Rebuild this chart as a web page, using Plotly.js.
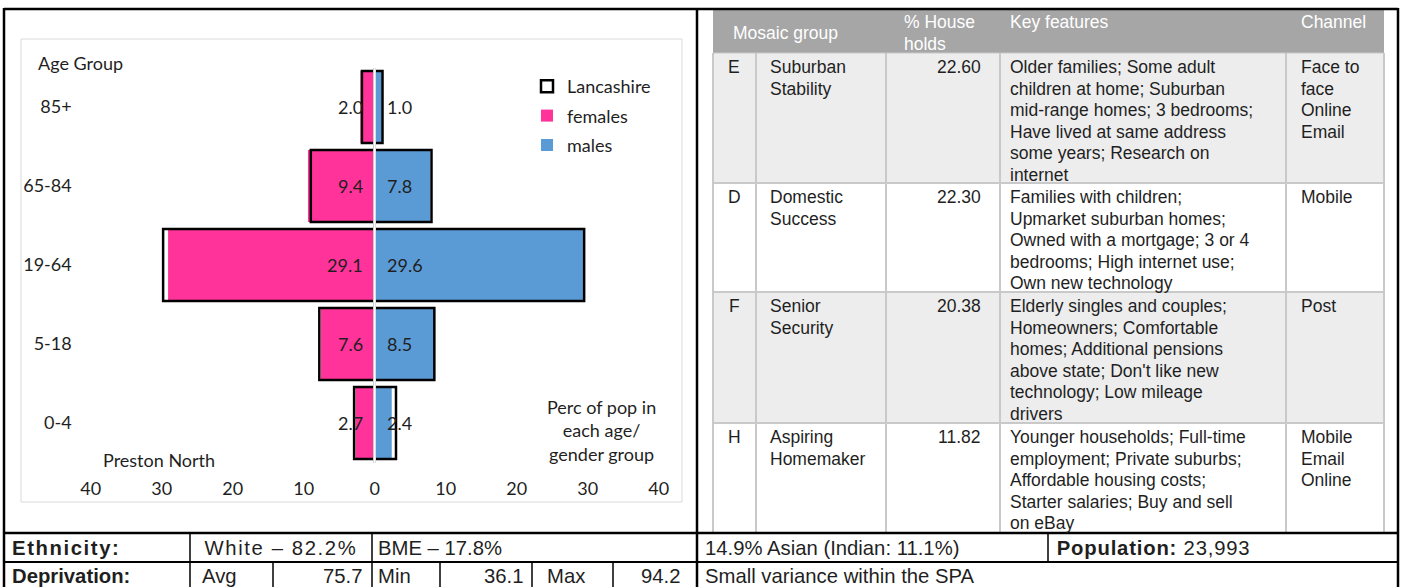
<!DOCTYPE html>
<html><head><meta charset="utf-8">
<script src="https://cdn.plot.ly/plotly-3.0.1.min.js"></script>
<style>html,body{margin:0;padding:0;background:#fff}#chart{width:1405px;height:587px}</style>
</head><body><div id="chart"></div>
<script>
// ---------------- DATA ----------------
const ageGroups = ['85+', '65-84', '19-64', '5-18', '0-4'];
const prestonFemales = [2.0, 9.4, 29.1, 7.6, 2.7];
const prestonMales = [1.0, 7.8, 29.6, 8.5, 2.4];
const lancsFemales = [1.8, 9.0, 29.8, 7.8, 2.9];
const lancsMales = [1.1, 8.0, 29.5, 8.4, 3.0];
const xTickVals = [-40, -30, -20, -10, 0, 10, 20, 30, 40];
const xTickText = ['40', '30', '20', '10', '0', '10', '20', '30', '40'];

const mosaicHeaders = ['Mosaic group', '% House\nholds', 'Key features', 'Channel'];
const mosaicCodes = ['E', 'D', 'F', 'H'];
const mosaicNames = ['Suburban\nStability', 'Domestic\nSuccess', 'Senior\nSecurity', 'Aspiring\nHomemaker'];
const mosaicPct = [22.60, 22.30, 20.38, 11.82];
const mosaicFeatures = [
  'Older families; Some adult\nchildren at home; Suburban\nmid-range homes; 3 bedrooms;\nHave lived at same address\nsome years; Research on\ninternet',
  'Families with children;\nUpmarket suburban homes;\nOwned with a mortgage; 3 or 4\nbedrooms; High internet use;\nOwn new technology',
  'Elderly singles and couples;\nHomeowners; Comfortable\nhomes; Additional pensions\nabove state; Don\'t like new\ntechnology; Low mileage\ndrivers',
  'Younger households; Full-time\nemployment; Private suburbs;\nAffordable housing costs;\nStarter salaries; Buy and sell\non eBay'
];
const mosaicChannels = ['Face to\nface\nOnline\nEmail', 'Mobile', 'Post', 'Mobile\nEmail\nOnline'];

const whitePct = 82.2, bmePct = 17.8, asianPct = 14.9, indianPct = 11.1, population = 23993;
const deprAvg = 75.7, deprMin = 36.1, deprMax = 94.2;
const deprNote = 'Small variance within the SPA';

// ---------------- HELPERS ----------------
const W = 1405, H = 587;
const px = x => x / W;
const py = y => 1 - y / H;
const CHART_FONT = 'Lato, Carlito, Calibri, sans-serif';
const TABLE_FONT = 'Liberation Sans, Arial, Helvetica, sans-serif';
const TXT = '#1f1f1f';
const shapes = [];
const annotations = [];
const spaced = {}; // annotation index -> letter spacing
function line(x0, y0, x1, y1, color, width, layer) {
  shapes.push({type: 'line', xref: 'paper', yref: 'paper', x0: px(x0), y0: py(y0), x1: px(x1), y1: py(y1),
    line: {color: color, width: width}, layer: layer || 'above'});
}
function rect(x0, y0, x1, y1, fill, lineColor, lineWidth) {
  shapes.push({type: 'rect', xref: 'paper', yref: 'paper', x0: px(x0), y0: py(y0), x1: px(x1), y1: py(y1),
    fillcolor: fill, line: {color: lineColor || 'rgba(0,0,0,0)', width: lineWidth || 0}, layer: 'below'});
}
function label(x, y, text, anchor, size, family, color, spacing) {
  if (spacing) {
    // letter-spacing widens text around its centre; shift so the left edge stays put
    const nChars = text.replace(/<[^>]+>/g, '').length;
    spaced[annotations.length] = spacing;
    x += nChars * spacing / 2;
  }
  annotations.push({xref: 'paper', yref: 'paper', x: px(x), y: py(y), text: text, showarrow: false,
    xanchor: anchor || 'left', yanchor: 'middle', borderpad: 0, borderwidth: 0,
    font: {family: family || TABLE_FONT, size: size || 17.5, color: color || TXT}});
}
function multiline(x, yFirst, text, anchor, spacing, size, color) {
  text.split('\n').forEach((t, i) => label(x, yFirst + i * spacing, t, anchor, size, TABLE_FONT, color));
}

// ---------------- CHART (population pyramid) ----------------
const plotLeft = 90.7, plotRight = 658.7, plotTop = 67.5, plotBottom = 462.5;
const traces = [
  {type: 'bar', orientation: 'h', name: 'females', y: ageGroups, x: prestonFemales.map(v => -v),
   marker: {color: '#ff3399', line: {width: 0}}, legendgroup: 'f', legendrank: 2, hoverinfo: 'skip'},
  {type: 'bar', orientation: 'h', name: 'males', y: ageGroups, x: prestonMales,
   marker: {color: '#5b9bd5', line: {width: 0}}, legendgroup: 'm', legendrank: 3, hoverinfo: 'skip'},
  {type: 'bar', orientation: 'h', name: 'Lancashire', y: ageGroups, x: lancsFemales.map(v => -v),
   marker: {color: 'rgba(0,0,0,0)', line: {color: '#000', width: 2.5}}, legendgroup: 'l', legendrank: 1, hoverinfo: 'skip'},
  {type: 'bar', orientation: 'h', name: 'Lancashire', y: ageGroups, x: lancsMales, showlegend: false,
   marker: {color: 'rgba(0,0,0,0)', line: {color: '#000', width: 2.5}}, legendgroup: 'l', legendrank: 1, hoverinfo: 'skip'}
];

// data labels
ageGroups.forEach((g, i) => {
  annotations.push({xref: 'x', yref: 'y', x: 0, y: g, text: prestonFemales[i].toFixed(1), showarrow: false,
    xanchor: 'right', yanchor: 'middle', xshift: -10, font: {family: CHART_FONT, size: 18, color: TXT}});
  annotations.push({xref: 'x', yref: 'y', x: 0, y: g, text: prestonMales[i].toFixed(1), showarrow: false,
    xanchor: 'left', yanchor: 'middle', xshift: 10, font: {family: CHART_FONT, size: 18, color: TXT}});
});
// chart texts
label(38, 63, 'Age Group', 'left', 18, CHART_FONT);
label(103, 460, 'Preston North', 'left', 18, CHART_FONT);
annotations.push({xref: 'paper', yref: 'paper', x: px(601), y: py(430), text: 'Perc of pop in<br>each age/<br>gender group',
  showarrow: false, xanchor: 'center', yanchor: 'middle', align: 'center', font: {family: CHART_FONT, size: 18, color: TXT}});

// zero divider (white core)
shapes.push({type: 'line', xref: 'x', yref: 'paper', x0: 0, x1: 0, y0: py(plotBottom + 1), y1: py(plotTop - 1),
  line: {color: '#ffffff', width: 1.3}, layer: 'above'});

// chart area border
rect(21, 39, 682, 502, 'rgba(0,0,0,0)', '#d9d9d9', 1);

// ---------------- MOSAIC TABLE ----------------
const colEdges = [713, 756, 886, 1000, 1286, 1384];
const rowTops = [53, 183, 292, 423, 533];
const LS = 21.6;
rect(713, 10, 1384, 53, '#a6a6a6');
for (let r = 0; r < 4; r++) {
  rect(713, rowTops[r], 1384, rowTops[r + 1], r % 2 === 0 ? '#ededed' : '#ffffff');
}
colEdges.forEach(x => line(x, 53, x, 533, '#c9c9c9', 2));
[183, 292, 423].forEach(y => line(713, y, 1384, y, '#c9c9c9', 2));
line(713, 53, 1384, 53, '#c9c9c9', 1);
label(733, 33, mosaicHeaders[0], 'left', 17.5, TABLE_FONT, '#ffffff');
multiline(904, 22, mosaicHeaders[1], 'left', LS, 17.5, '#ffffff');
label(1010, 22, mosaicHeaders[2], 'left', 17.5, TABLE_FONT, '#ffffff');
label(1301, 22, mosaicHeaders[3], 'left', 17.5, TABLE_FONT, '#ffffff');
for (let r = 0; r < 4; r++) {
  const y0 = rowTops[r] + 14;
  label(734, y0, mosaicCodes[r], 'center');
  multiline(770, y0, mosaicNames[r], 'left', LS);
  label(981, y0, mosaicPct[r].toFixed(2), 'right');
  multiline(1010, y0, mosaicFeatures[r], 'left', LS);
  multiline(1301, y0, mosaicChannels[r], 'left', LS);
}

// ---------------- BOTTOM INFO TABLE ----------------
const BF = 20.3;
line(4, 9, 1398, 9, '#000', 2.5);
line(4, 8, 4, 587, '#000', 2.5);
line(697, 8, 697, 587, '#000', 2.5);
line(1398, 8, 1398, 587, '#000', 2.5);
line(4, 533, 1398, 533, '#000', 2.5);
line(4, 562, 1398, 562, '#000', 2);
[190, 372, 1048].forEach(x => line(x, 533, x, 562, '#000', 1.5));
[190, 273, 372, 440, 532, 613].forEach(x => line(x, 562, x, 587, '#000', 1.5));
const r1 = 548, r2 = 576;
label(12, r1, '<b>Ethnicity:</b>', 'left', BF, TABLE_FONT, TXT, 1.6);
label(205, r1, 'White \u2013 ' + whitePct.toFixed(1) + '%', 'left', BF, TABLE_FONT, TXT, 1.6);
label(378, r1, 'BME \u2013 ' + bmePct.toFixed(1) + '%', 'left', BF);
label(705, r1, asianPct.toFixed(1) + '% Asian (Indian: ' + indianPct.toFixed(1) + '%)', 'left', BF);
label(1057, r1, '<b>Population:</b> ' + population.toLocaleString('en-GB'), 'left', BF, TABLE_FONT, TXT, 0.8);
label(12, r2, '<b>Deprivation:</b>', 'left', BF);
label(202, r2, 'Avg', 'left', BF);
label(362, r2, deprAvg.toFixed(1), 'right', BF);
label(378, r2, 'Min', 'left', BF);
label(523, r2, deprMin.toFixed(1), 'right', BF);
label(547, r2, 'Max', 'left', BF);
label(680, r2, deprMax.toFixed(1), 'right', BF);
label(705, r2, deprNote, 'left', BF);

const layout = {
  width: W, height: H, margin: {l: 0, r: 0, t: 0, b: 0},
  paper_bgcolor: '#ffffff', plot_bgcolor: 'rgba(0,0,0,0)',
  barmode: 'overlay', bargap: 0.09,
  showlegend: true,
  legend: {x: px(527), y: py(68), xanchor: 'left', yanchor: 'top', traceorder: 'grouped', tracegroupgap: 3,
    bgcolor: 'rgba(0,0,0,0)', font: {family: CHART_FONT, size: 18, color: TXT}},
  xaxis: {domain: [px(plotLeft), px(plotRight)], range: [-40, 40], tickvals: xTickVals, ticktext: xTickText,
    showgrid: false, zeroline: true, zerolinecolor: '#cccccc', zerolinewidth: 3.5, zerolinelayer: 'above traces',
    showline: false, ticks: '', ticklabelstandoff: 13, fixedrange: true,
    tickfont: {family: CHART_FONT, size: 18, color: TXT}},
  yaxis: {domain: [py(plotBottom), py(plotTop)], type: 'category', categoryorder: 'array', categoryarray: ageGroups,
    range: [4.5, -0.5], showgrid: false, zeroline: false, showline: false, ticks: '', ticklabelstandoff: 18,
    fixedrange: true, tickfont: {family: CHART_FONT, size: 18, color: TXT}},
  shapes: shapes,
  annotations: annotations
};
Plotly.newPlot('chart', traces, layout, {staticPlot: true, displayModeBar: false}).then(gd => {
  const groups = gd.querySelectorAll('.annotation');
  Object.keys(spaced).forEach(k => {
    const g = groups[+k];
    if (!g) return;
    const t = g.querySelector('text.annotation-text');
    if (t) t.setAttribute('letter-spacing', spaced[k] + 'px');
  });
});
</script>
</body></html>
